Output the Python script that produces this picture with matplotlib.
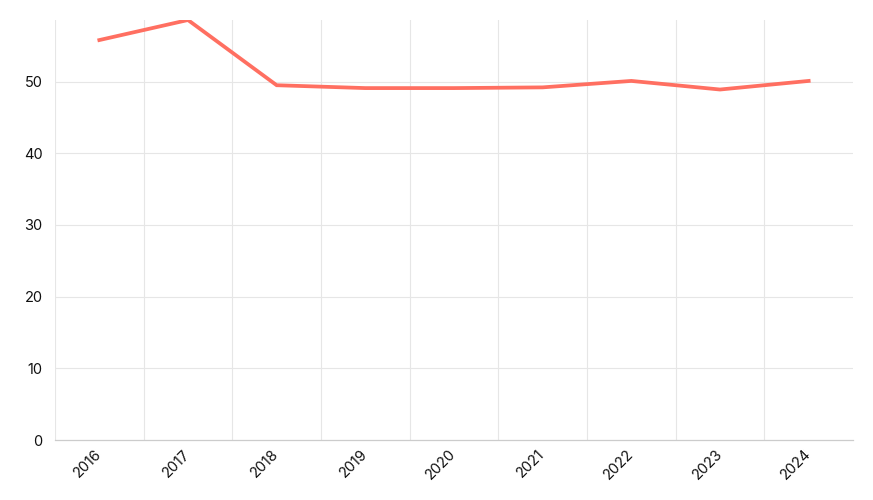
import matplotlib.pyplot as plt
import matplotlib.transforms as mtransforms
import numpy as np

years = ["2016", "2017", "2018", "2019", "2020", "2021", "2022", "2023", "2024"]
values = [55.8, 58.6, 49.5, 49.1, 49.1, 49.2, 50.1, 48.9, 50.1]

plt.rcParams["font.family"] = ["Inter", "DejaVu Sans"]

fig = plt.figure(figsize=(8.73, 5), dpi=100)
ax = fig.add_axes([55 / 873, 60 / 500, 798 / 873, 420 / 500])

x = np.arange(len(years))
ax.plot(x, values, color="#ff6f61", linewidth=2.7, solid_joinstyle="miter", zorder=3)

ax.set_xlim(-0.5, len(years) - 0.5)
ax.set_ylim(0, max(values))

# band boundaries as vertical grid
for b in np.arange(-0.5, len(years) - 0.5, 1.0):
    ax.axvline(b, color="#e6e6e6", linewidth=0.8, zorder=1)
for yv in [10, 20, 30, 40, 50]:
    ax.axhline(yv, color="#e6e6e6", linewidth=0.8, zorder=1)

ax.set_xticks(x)
ax.set_xticklabels(years, rotation=45, ha="right", rotation_mode="anchor", fontsize=10.5)
ax.set_yticks([0, 10, 20, 30, 40, 50])
ax.tick_params(axis="both", length=0, colors="#111111")
ax.tick_params(axis="y", pad=9, labelsize=10.5)
ax.tick_params(axis="x", pad=5)

shift = mtransforms.ScaledTranslation(-5 / 100, 0, fig.dpi_scale_trans)
for lab in ax.get_xticklabels():
    lab.set_transform(lab.get_transform() + shift)

for s in ["top", "right", "left"]:
    ax.spines[s].set_visible(False)
ax.spines["bottom"].set_color("#cccccc")
ax.spines["bottom"].set_linewidth(0.9)

fig.savefig("out.png", dpi=100)
